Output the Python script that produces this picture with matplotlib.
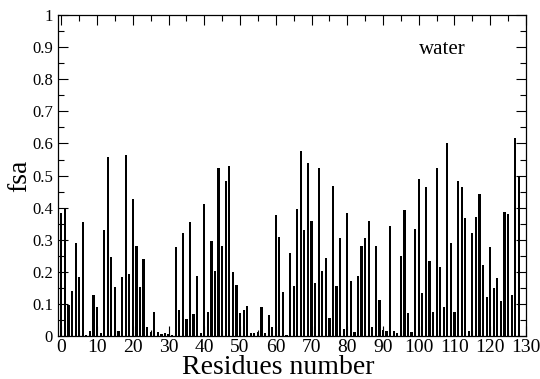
import matplotlib
matplotlib.use("Agg")
import matplotlib.pyplot as plt
from matplotlib.ticker import MultipleLocator
import numpy as np

residues = list(range(129))
fsa = [
    0.382, 0.397, 0.097, 0.141, 0.289, 0.184, 0.355, 0.003, 0.015, 0.127,
    0.091, 0.008, 0.330, 0.557, 0.247, 0.153, 0.017, 0.184, 0.565, 0.194,
    0.428, 0.280, 0.152, 0.239, 0.028, 0.012, 0.075, 0.012, 0.006, 0.009,
    0.006, 0.003, 0.276, 0.080, 0.320, 0.054, 0.355, 0.069, 0.186, 0.009,
    0.411, 0.075, 0.295, 0.201, 0.523, 0.282, 0.482, 0.531, 0.198, 0.158,
    0.073, 0.081, 0.093, 0.009, 0.009, 0.013, 0.089, 0.009, 0.065, 0.028,
    0.378, 0.307, 0.136, 0.004, 0.260, 0.156, 0.395, 0.577, 0.330, 0.538,
    0.358, 0.164, 0.523, 0.204, 0.243, 0.056, 0.467, 0.156, 0.304, 0.022,
    0.383, 0.171, 0.012, 0.187, 0.282, 0.304, 0.358, 0.029, 0.280, 0.112,
    0.019, 0.015, 0.344, 0.015, 0.009, 0.250, 0.393, 0.073, 0.012, 0.332,
    0.488, 0.133, 0.465, 0.233, 0.075, 0.523, 0.216, 0.091, 0.602, 0.289,
    0.075, 0.484, 0.465, 0.368, 0.017, 0.320, 0.372, 0.444, 0.220, 0.120,
    0.278, 0.150, 0.181, 0.108, 0.386, 0.381, 0.129, 0.617, 0.498,
]
label_text = "water"

plt.rcParams['font.family'] = ['Liberation Serif', 'DejaVu Serif']

fig = plt.figure(figsize=(5.4, 3.79), dpi=100)
ax = fig.add_axes([0.107, 0.1135, 0.867, 0.8465])

ax.bar(residues, fsa, width=0.62, color='black', linewidth=0)

ax.set_xlim(-1, 130)
ax.set_ylim(0, 1)
ax.xaxis.set_major_locator(MultipleLocator(10))
ax.xaxis.set_minor_locator(MultipleLocator(5))
ax.yaxis.set_minor_locator(MultipleLocator(0.05))
ax.set_yticks(np.arange(0, 1.01, 0.1))
ax.set_yticklabels(['0', '0.1', '0.2', '0.3', '0.4', '0.5', '0.6', '0.7', '0.8', '0.9', '1'])

ax.tick_params(which='both', direction='in', top=True, right=True, width=0.8)
ax.tick_params(which='major', length=7)
ax.tick_params(which='minor', length=4)
ax.tick_params(axis='y', labelsize=12)
ax.tick_params(axis='x', labelsize=14, pad=2)
for s in ax.spines.values():
    s.set_linewidth(0.9)

ax.set_xlabel('Residues number', fontsize=20)
ax.xaxis.set_label_coords(0.47, -0.058, transform=ax.transAxes)
ax.xaxis.label.set_va('top')
ax.set_ylabel('fsa', fontsize=20, labelpad=0)
ax.text(100, 0.894, label_text, fontsize=15, ha='left', va='center')

fig.savefig('out.png', dpi=100)
